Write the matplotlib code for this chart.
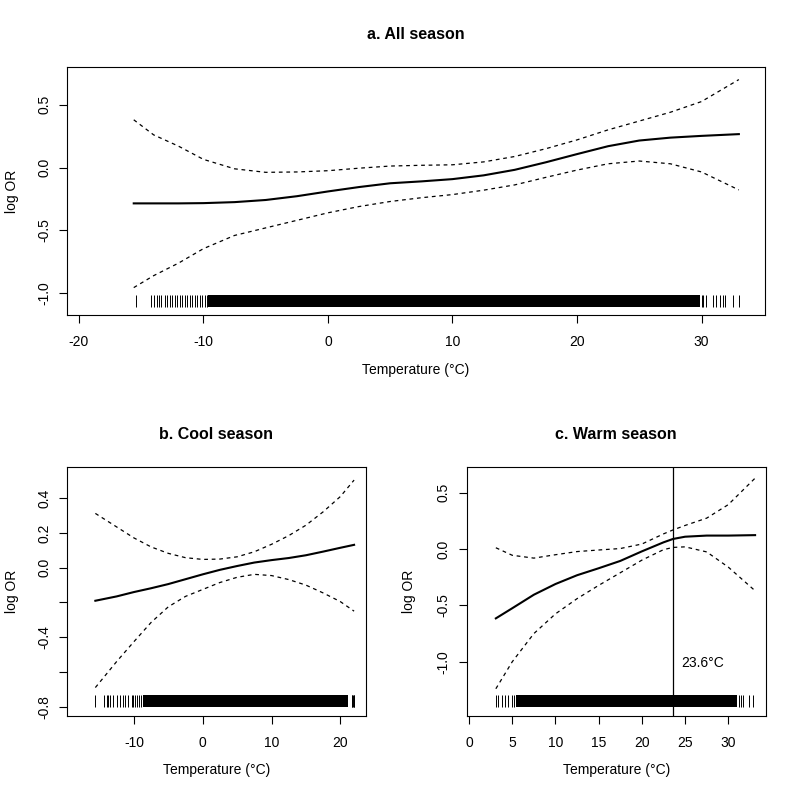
import matplotlib
matplotlib.use("Agg")
import matplotlib.pyplot as plt

plt.rcParams['font.family'] = ['Liberation Sans', 'DejaVu Sans']
plt.rcParams['axes.unicode_minus'] = False

# ---- a. All season ----
a_temp = [-15.6, -14, -12, -10, -7.5, -5, -2.5, 0, 2.5, 5, 7.5, 10, 12.5, 15, 17.5, 20, 22.5, 25, 27.5, 30, 33]
a_fit = [-0.285, -0.285, -0.285, -0.283, -0.275, -0.258, -0.228, -0.190, -0.155, -0.125, -0.110, -0.092,
         -0.062, -0.018, 0.042, 0.107, 0.170, 0.215, 0.238, 0.252, 0.266]
a_upper = [0.38, 0.26, 0.17, 0.065, -0.01, -0.038, -0.035, -0.025, -0.005, 0.012, 0.018, 0.022,
           0.045, 0.088, 0.150, 0.220, 0.300, 0.370, 0.440, 0.525, 0.700]
a_lower = [-0.955, -0.86, -0.76, -0.645, -0.54, -0.48, -0.42, -0.36, -0.31, -0.27, -0.24, -0.215,
           -0.18, -0.138, -0.078, -0.02, 0.03, 0.052, 0.03, -0.035, -0.178]
a_rug_low = [-15.45, -14.2, -13.95, -13.7, -13.55, -13.4, -13.1, -12.9, -12.7, -12.5, -12.3, -12.1,
             -11.9, -11.7, -11.5, -11.3, -11.1, -10.9, -10.7, -10.5, -10.3, -10.1, -9.9, -9.7]
a_rug_dense = (-9.6, 29.9)
a_rug_high = [30.0, 30.1, 30.4, 30.9, 31.2, 31.5, 31.75, 31.9, 32.55, 33.0]

# ---- b. Cool season ----
b_temp = [-15.6, -12.5, -10, -7.5, -5, -2.5, 0, 2.5, 5, 7.5, 10, 12.5, 15, 17.5, 20, 22]
b_fit = [-0.190, -0.165, -0.140, -0.118, -0.094, -0.066, -0.038, -0.012, 0.010, 0.030, 0.044,
         0.056, 0.072, 0.093, 0.115, 0.132]
b_upper = [0.313, 0.235, 0.172, 0.120, 0.083, 0.058, 0.048, 0.050, 0.063, 0.092, 0.135, 0.185,
           0.245, 0.322, 0.410, 0.505]
b_lower = [-0.690, -0.540, -0.426, -0.315, -0.225, -0.165, -0.125, -0.085, -0.055, -0.038, -0.045,
           -0.068, -0.100, -0.145, -0.195, -0.250]
b_rug_low = [-15.6, -14.3, -13.95, -13.7, -13.4, -13.0, -12.5, -12.0, -11.6, -11.3, -10.8, -10.3,
             -10.1, -9.8, -9.5, -9.2, -8.9]
b_rug_dense = (-8.7, 21.1)
b_rug_high = [21.65, 21.75, 21.85, 21.95, 22.05]

# ---- c. Warm season ----
c_temp = [3.1, 5, 7.5, 10, 12.5, 15, 17.5, 20, 22.5, 23.6, 25, 27.5, 30, 33.1]
c_fit = [-0.615, -0.525, -0.405, -0.310, -0.232, -0.170, -0.105, -0.020, 0.060, 0.090, 0.110,
         0.120, 0.120, 0.124]
c_upper = [0.012, -0.055, -0.080, -0.050, -0.022, -0.008, 0.005, 0.045, 0.135, 0.170, 0.210,
           0.275, 0.395, 0.630]
c_lower = [-1.240, -1.000, -0.750, -0.575, -0.440, -0.322, -0.210, -0.098, -0.005, 0.015, 0.020,
           -0.025, -0.160, -0.370]
c_rug_low = [3.1, 3.4, 3.8, 4.2, 4.55, 4.95, 5.2]
c_rug_dense = (5.45, 31.0)
c_rug_high = [31.2, 31.45, 31.75, 32.45, 32.9]
threshold = 23.6

xlabel = "Temperature (°C)"


def panel(ax, title, temp, fit, up, lo, rug_low, rug_dense, rug_high,
          xlim, ylim, xticks, yticks, yticklabels, ylab_x, xlab_y):
    ax.plot(temp, fit, color='black', lw=1.5)
    ax.plot(temp, up, color='black', lw=0.9, dashes=(3, 3))
    ax.plot(temp, lo, color='black', lw=0.9, dashes=(3, 3))
    tr = ax.get_xaxis_transform()
    ax.vlines(rug_low + rug_high, 0.034, 0.082, transform=tr, color='black', lw=0.7)
    ax.axvspan(rug_dense[0], rug_dense[1], 0.034, 0.082, color='black', lw=0)
    ax.set_xlim(xlim)
    ax.set_ylim(ylim)
    ax.set_xticks(xticks)
    ax.set_yticks(yticks)
    ax.set_yticklabels(yticklabels, rotation=90, va='center')
    ax.tick_params(length=5.5, width=0.8, labelsize=10, pad=9)
    ax.tick_params(axis='y', pad=6)
    ax.set_title(title, fontsize=11.5, fontweight='bold', pad=20)
    ax.set_xlabel(xlabel, fontsize=10)
    ax.set_ylabel("log OR", fontsize=10)
    ax.xaxis.set_label_coords(0.5, xlab_y)
    ax.yaxis.set_label_coords(ylab_x, 0.5)
    for s in ax.spines.values():
        s.set_linewidth(0.8)


fig = plt.figure(figsize=(8, 8), dpi=100)
ax_a = fig.add_axes([0.08375, 0.60625, 0.8725, 0.31])
ax_b = fig.add_axes([0.08375, 0.1054, 0.3734, 0.311])
ax_c = fig.add_axes([0.5834, 0.1054, 0.37375, 0.311])

panel(ax_a, "a. All season", a_temp, a_fit, a_upper, a_lower, a_rug_low, a_rug_dense, a_rug_high,
      (-20.96, 35.1), (-1.173, 0.80), [-20, -10, 0, 10, 20, 30],
      [-1.0, -0.5, 0.0, 0.5], ["-1.0", "-0.5", "0.0", "0.5"], -0.0688, -0.194)

panel(ax_b, "b. Cool season", b_temp, b_fit, b_upper, b_lower, b_rug_low, b_rug_dense, b_rug_high,
      (-19.72, 23.69), (-0.852, 0.581), [-10, 0, 10, 20],
      [-0.8, -0.6, -0.4, -0.2, 0.0, 0.2, 0.4], ["-0.8", "", "-0.4", "", "0.0", "0.2", "0.4"],
      -0.161, -0.19)

panel(ax_c, "c. Warm season", c_temp, c_fit, c_upper, c_lower, c_rug_low, c_rug_dense, c_rug_high,
      (-0.27, 34.33), (-1.479, 0.73), [0, 5, 10, 15, 20, 25, 30],
      [-1.0, -0.5, 0.0, 0.5], ["-1.0", "-0.5", "0.0", "0.5"], -0.17, -0.19)
ax_c.axvline(threshold, color='black', lw=0.9)
ax_c.text(threshold + 0.9, -1.014, f"{threshold}°C", fontsize=10, va='center', ha='left')

fig.savefig("out.png", dpi=100)
